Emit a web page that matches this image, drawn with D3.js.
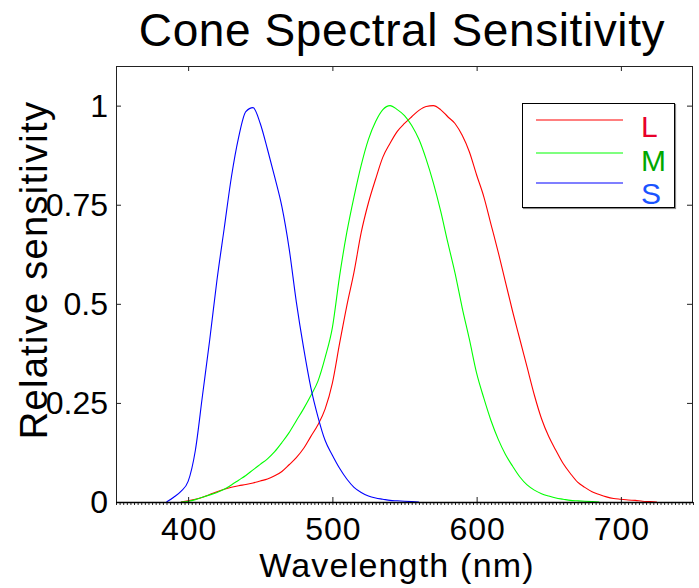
<!DOCTYPE html>
<html>
<head>
<meta charset="utf-8">
<script src="https://cdn.jsdelivr.net/npm/d3@7"></script>
<style>
  html, body { margin: 0; padding: 0; background: #fff; }
  svg text { font-family: "Liberation Sans", Arial, Helvetica, sans-serif; fill: #000; }
</style>
</head>
<body>
<svg id="chart" width="699" height="588"></svg>
<script>
// Wavelength samples (nm) and relative cone sensitivities
const wlL = [395,400,405,410,415,420,425,430,435,440,445,450,455,460,465,470,475,480,485,490,495,500,505,510,515,520,525,530,535,540,545,550,555,560,565,570,575,580,585,590,595,600,605,610,615,620,625,630,635,640,645,650,655,660,665,670,675,680,685,690,695,700,705,710,715,720,725];
const valL = [0,0.003,0.007,0.012,0.019,0.026,0.032,0.037,0.041,0.044,0.048,0.053,0.058,0.066,0.077,0.094,0.112,0.135,0.165,0.195,0.235,0.30,0.40,0.495,0.58,0.68,0.755,0.815,0.87,0.905,0.935,0.955,0.972,0.988,0.998,1.0,0.99,0.972,0.955,0.925,0.883,0.825,0.77,0.70,0.63,0.555,0.48,0.41,0.34,0.27,0.21,0.165,0.13,0.097,0.072,0.05,0.037,0.026,0.019,0.013,0.009,0.007,0.005,0.004,0.002,0.001,0];

const wlM = [395,400,405,410,415,420,425,430,435,440,445,450,455,460,465,470,475,480,485,490,495,500,505,510,515,520,525,530,535,540,545,550,555,560,565,570,575,580,585,590,595,600,605,610,615,620,625,630,635,640,645,650,655,660,665,670,675,680,685];
const valM = [0,0.002,0.006,0.012,0.018,0.024,0.032,0.043,0.055,0.067,0.081,0.095,0.109,0.127,0.150,0.175,0.205,0.235,0.268,0.305,0.365,0.44,0.57,0.68,0.77,0.85,0.915,0.96,0.99,1.0,0.99,0.975,0.95,0.915,0.865,0.805,0.735,0.655,0.578,0.49,0.41,0.325,0.262,0.205,0.158,0.12,0.09,0.063,0.043,0.03,0.021,0.015,0.010,0.007,0.004,0.003,0.002,0.001,0];

const wlS = [385,390,395,400,405,410,415,420,425,430,435,440,445,450,455,460,465,470,475,480,485,490,495,500,505,510,515,520,525,530,535,540,545,550,555,560];
const valS = [0,0.012,0.027,0.052,0.13,0.27,0.41,0.56,0.69,0.82,0.92,0.985,0.995,0.955,0.89,0.82,0.745,0.64,0.505,0.39,0.29,0.215,0.155,0.118,0.085,0.058,0.037,0.024,0.015,0.010,0.007,0.004,0.003,0.002,0.001,0];

const seriesNames = ["L", "M", "S"];
const lineColors = ["#ff0000", "#00ff00", "#0000ff"];
const labelColors = ["#e8002a", "#00a800", "#1a53ff"];

const xTicks = [400, 500, 600, 700];
const yTicks = [0, 0.25, 0.5, 0.75, 1];
const yTickLabels = ["0", "0.25", "0.5", "0.75", "1"];

const titleText = "Cone Spectral Sensitivity";
const xLabelText = "Wavelength (nm)";
const yLabelText = "Relative sensitivity";

// Layout
const plot = { left: 116, right: 693, top: 66, bottom: 502 };

const svg = d3.select("#chart");

const x = d3.scaleLinear().domain([350, 750]).range([plot.left, plot.right]);
const y = d3.scaleLinear().domain([0, 1.1]).range([plot.bottom, plot.top]);

// Title
svg.append("text")
  .attr("x", 402)
  .attr("y", 46)
  .attr("text-anchor", "middle")
  .style("font-size", "46px")
  .style("letter-spacing", "0.6px")
  .text(titleText);

// Curves
const series = [
  { name: "L", wl: wlL, v: valL },
  { name: "M", wl: wlM, v: valM },
  { name: "S", wl: wlS, v: valS }
];
const line = d3.line()
  .x(d => x(d[0]))
  .y(d => y(d[1]))
  .curve(d3.curveMonotoneX);

svg.append("clipPath").attr("id", "clip")
  .append("rect")
  .attr("x", plot.left).attr("y", plot.top)
  .attr("width", plot.right - plot.left).attr("height", plot.bottom - plot.top);
const curves = svg.append("g").attr("clip-path", "url(#clip)");

series.forEach((s, i) => {
  curves.append("path")
    .datum(s.wl.map((w, k) => [w, s.v[k]]))
    .attr("d", line)
    .attr("fill", "none")
    .attr("stroke", lineColors[i])
    .attr("stroke-width", 1.1);
});

// Axes box
const axisColor = "#222";

// minor ticks along the bottom edge
const minor = d3.range(350, 750.1, 2.5);
svg.append("g")
  .attr("transform", `translate(0,${plot.bottom})`)
  .call(d3.axisBottom(x).tickValues(minor).tickSize(3).tickFormat(""))
  .call(g => g.select(".domain").remove())
  .call(g => g.selectAll("line").attr("stroke", axisColor));

// bottom axis (ticks inward)
svg.append("g")
  .attr("transform", `translate(0,${plot.bottom})`)
  .call(d3.axisBottom(x).tickValues(xTicks).tickSize(-5).tickFormat(""))
  .call(g => g.select(".domain").remove())
  .call(g => g.selectAll("line").attr("stroke", axisColor));

// top axis (ticks inward)
svg.append("g")
  .attr("transform", `translate(0,${plot.top})`)
  .call(d3.axisTop(x).tickValues(xTicks).tickSize(-5).tickFormat(""))
  .call(g => g.select(".domain").remove())
  .call(g => g.selectAll("line").attr("stroke", axisColor));

// left axis
svg.append("g")
  .attr("transform", `translate(${plot.left},0)`)
  .call(d3.axisLeft(y).tickValues(yTicks).tickSize(-5).tickFormat(""))
  .call(g => g.select(".domain").remove())
  .call(g => g.selectAll("line").attr("stroke", axisColor));

// right axis
svg.append("g")
  .attr("transform", `translate(${plot.right},0)`)
  .call(d3.axisRight(y).tickValues(yTicks).tickSize(-6).tickFormat(""))
  .call(g => g.select(".domain").remove())
  .call(g => g.selectAll("line").attr("stroke", axisColor));

// frame
svg.append("rect")
  .attr("x", plot.left + 0.5).attr("y", plot.top + 0.5)
  .attr("width", plot.right - plot.left - 1).attr("height", plot.bottom - plot.top)
  .attr("fill", "none")
  .attr("stroke", axisColor)
  .attr("stroke-width", 1);
svg.append("line")
  .attr("x1", plot.left).attr("x2", plot.right)
  .attr("y1", plot.bottom + 0.5).attr("y2", plot.bottom + 0.5)
  .attr("stroke", "#000").attr("stroke-width", 1.5);

// tick labels
svg.append("g").selectAll("text")
  .data(xTicks)
  .join("text")
  .attr("x", d => x(d) + 1)
  .attr("y", 540)
  .attr("text-anchor", "middle")
  .style("font-size", "32px")
  .style("letter-spacing", "1px")
  .text(d => d);

svg.append("g").selectAll("text")
  .data(yTicks)
  .join("text")
  .attr("x", 108)
  .attr("y", d => y(d) + 11)
  .attr("text-anchor", "end")
  .style("font-size", "32px")
  .text((d, i) => yTickLabels[i]);

// axis labels
svg.append("text")
  .attr("x", 397)
  .attr("y", 577)
  .attr("text-anchor", "middle")
  .style("font-size", "34px")
  .style("letter-spacing", "1.2px")
  .text(xLabelText);

svg.append("text")
  .attr("transform", `translate(47,270) rotate(-90)`)
  .attr("text-anchor", "middle")
  .style("font-size", "38px")
  .style("letter-spacing", "1.3px")
  .text(yLabelText);

// Legend
const lg = { x: 522, y: 103, w: 152, h: 104 };
const legend = svg.append("g");
legend.append("rect")
  .attr("x", lg.x + 1.5).attr("y", lg.y + 1.5)
  .attr("width", lg.w).attr("height", lg.h)
  .attr("fill", "none").attr("stroke", "#888").attr("stroke-width", 1.2);
legend.append("rect")
  .attr("x", lg.x + 0.5).attr("y", lg.y + 0.5)
  .attr("width", lg.w).attr("height", lg.h)
  .attr("fill", "#fff").attr("stroke", "#000").attr("stroke-width", 1);

const legendRowY = [120, 153, 183];
const legendTextY = [137, 171, 204];
seriesNames.forEach((name, i) => {
  legend.append("line")
    .attr("x1", 536).attr("x2", 623)
    .attr("y1", legendRowY[i]).attr("y2", legendRowY[i])
    .attr("stroke", lineColors[i]).attr("stroke-width", 1.1);
  legend.append("text")
    .attr("x", 641)
    .attr("y", legendTextY[i])
    .style("font-size", "30px")
    .style("fill", labelColors[i])
    .text(name);
});
</script>
</body>
</html>
